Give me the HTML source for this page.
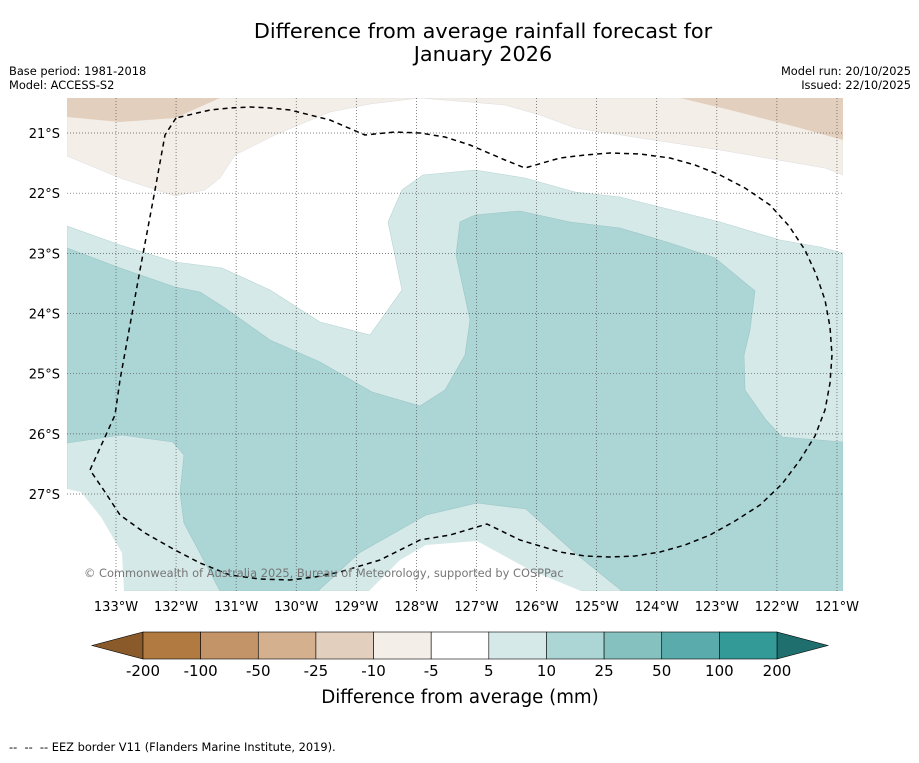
<!DOCTYPE html>
<html><head><meta charset="utf-8"><style>
body{margin:0;background:#fff;font-family:"Liberation Sans","DejaVu Sans",sans-serif}
svg text{font-family:"DejaVu Sans","Liberation Sans",sans-serif}
</style></head><body>
<svg id="chart" width="919" height="758" viewBox="0 0 919 758">
<text x="483" y="38" font-size="20.8" text-anchor="middle">Difference from average rainfall forecast for</text>
<text x="483" y="61" font-size="20.8" text-anchor="middle">January 2026</text>
<text x="9" y="75" font-size="11.4">Base period: 1981-2018</text>
<text x="9" y="89" font-size="11.4">Model: ACCESS-S2</text>
<text x="911" y="75" font-size="11.4" text-anchor="end">Model run: 20/10/2025</text>
<text x="911" y="89" font-size="11.4" text-anchor="end">Issued: 22/10/2025</text>
<defs><clipPath id="mc"><rect x="67" y="98" width="776" height="493"/></clipPath></defs>
<g clip-path="url(#mc)">
<rect x="67" y="98" width="776" height="493" fill="#fff"/>
<path fill="#f3eee8" stroke="#ddd" stroke-width="0.5" d="M67,98 L420,98 L370,104 L330,112 L275,135 L235,155 L220,178 L205,190 L175,196 L120,178 L67,156 Z"/>
<path fill="#f3eee8" stroke="#ddd" stroke-width="0.5" d="M420,98 L843,98 L843,175 L825,168 L720,150 L640,138 L575,128 L540,115 L505,105 Z"/>
<path fill="#e3cfbd" d="M67,98 L220,98 L175,118 L120,122 L67,117 Z"/>
<path fill="#e3cfbd" d="M680,98 L843,98 L843,140 L800,128 L730,110 Z"/>
<path fill="#d5e9e8" stroke="#b8d4d3" stroke-width="0.6" d="M67,226 L120,245 L175,262 L222,268 L270,290 L320,322 L370,335 L402,290 L388,222 L402,190 L423,175 L475,170 L525,178 L575,192 L620,197 L720,222 L780,240 L820,247 L843,253 L843,591 L67,591 Z"/>
<path fill="#fff" d="M67,489 L81,492 L101,517 L122,553 L124,591 L67,591 Z"/>
<path fill="#fff" d="M369,591 L400,560 L426,545 L477,541 L530,570 L581,591 Z"/>
<path fill="#acd5d5" stroke="#9cc6c6" stroke-width="0.6" d="M67,248 L120,268 L175,287 L200,292 L225,308 L270,340 L320,362 L372,392 L420,406 L445,390 L465,355 L470,320 L456,255 L460,222 L475,215 L520,211 L570,222 L620,228 L670,243 L715,258 L755,291 L750,330 L744,355 L745,390 L766,420 L782,437 L843,442 L843,591 L622,591 L575,553 L526,509 L477,503 L426,515 L359,553 L318,591 L220,591 L184,523 L180,493 L184,455 L173,442 L122,435 L67,443 Z"/>
<g id="grid"></g>
<path fill="none" stroke="#000" stroke-width="1.5" stroke-dasharray="5,4" stroke-linejoin="round" d="M176,118 L165,135 L155,190 L140,270 L120,380 L115,415 L90,470 L105,492 L120,515 L145,533 L175,550 L200,563 L230,575 L260,579 L290,580 L315,577 L340,572 L380,560 L420,540 L450,535 L487,524 L520,540 L560,552 L585,556 L610,557 L635,556 L660,552 L685,545 L710,535 L735,521 L760,505 L782,484 L800,460 L815,436 L825,410 L830,383 L832,355 L830,327 L825,300 L816,274 L805,250 L789,226 L770,205 L745,188 L720,175 L695,165 L670,158 L640,154 L610,153 L585,155 L560,158 L525,168 L505,160 L470,145 L445,137 L420,133 L395,132 L365,135 L330,120 L290,110 L270,108 L250,107 L230,108 L210,110 Z"/>
<text x="84" y="577" font-size="11.4" fill="#777">© Commonwealth of Australia 2025, Bureau of Meteorology, supported by COSPPac</text>
</g>
<g id="xlabels"></g>
<g id="ylabels"></g>
<g id="cbar"></g>
<text x="460" y="703" font-size="18.2" text-anchor="middle">Difference from average (mm)</text>
<text x="9" y="751" font-size="11.4" xml:space="preserve">--  --  -- EEZ border V11 (Flanders Marine Institute, 2019).</text>
</svg>
<script>
const lonTicks=[133,132,131,130,129,128,127,126,125,124,123,122,121];
const latTicks=[21,22,23,24,25,26,27];
const cbarLevels=[-200,-100,-50,-25,-10,-5,5,10,25,50,100,200];
const cbarColors=["#b07a40","#c29468","#d4b08f","#e3cfbd","#f3eee8","#ffffff","#d5e9e8","#acd5d5","#85c1be","#5aabab","#339a97"];
const NS="http://www.w3.org/2000/svg";
function xLon(l){return 116+(133-l)*60.08;}
function yLat(l){return 133+(l-21)*60.17;}
function mk(t,a,p){const e=document.createElementNS(NS,t);for(const k in a)e.setAttribute(k,a[k]);p.appendChild(e);return e;}
const grid=document.getElementById('grid'),xl=document.getElementById('xlabels'),yl=document.getElementById('ylabels');
lonTicks.forEach(l=>{const x=xLon(l);
 const g=mk('line',{x1:x,x2:x,y1:98,y2:591,stroke:'#555','stroke-width':0.7,'stroke-dasharray':'1,2'},grid);
 
 
 const t=mk('text',{x:x,y:611,'font-size':13,'text-anchor':'middle'},xl);t.textContent=l+'°W';
 
 });
latTicks.forEach(l=>{const y=yLat(l);
 const g=mk('line',{x1:67,x2:843,y1:y,y2:y,stroke:'#555','stroke-width':0.7,'stroke-dasharray':'1,2'},grid);
 
 
 const t=mk('text',{x:60,y:y+5,'font-size':13,'text-anchor':'end'},yl);t.textContent=l+'°S';
 
 });
const cb=document.getElementById('cbar');const x0=143,x1=777,cy=632,ch=27;const w=(x1-x0)/cbarColors.length;
const lt=mk('polygon',{points:`${x0},${cy} ${x0},${cy+ch} 92,${cy+ch/2}`,fill:'#8b5a2b',stroke:'#000','stroke-width':0.6},cb);


const rt=mk('polygon',{points:`${x1},${cy} ${x1},${cy+ch} 828,${cy+ch/2}`,fill:'#1f6f6e',stroke:'#000','stroke-width':0.6},cb);


cbarColors.forEach((c,i)=>{const r=mk('rect',{x:x0+i*w,y:cy,width:w,height:ch,fill:c,stroke:'#000','stroke-width':0.6},cb);
 
 });
cbarLevels.forEach((v,i)=>{const t=mk('text',{x:x0+i*w,y:676,'font-size':15,'text-anchor':'middle'},cb);t.textContent=v;
 
 });
</script>
</body></html>
